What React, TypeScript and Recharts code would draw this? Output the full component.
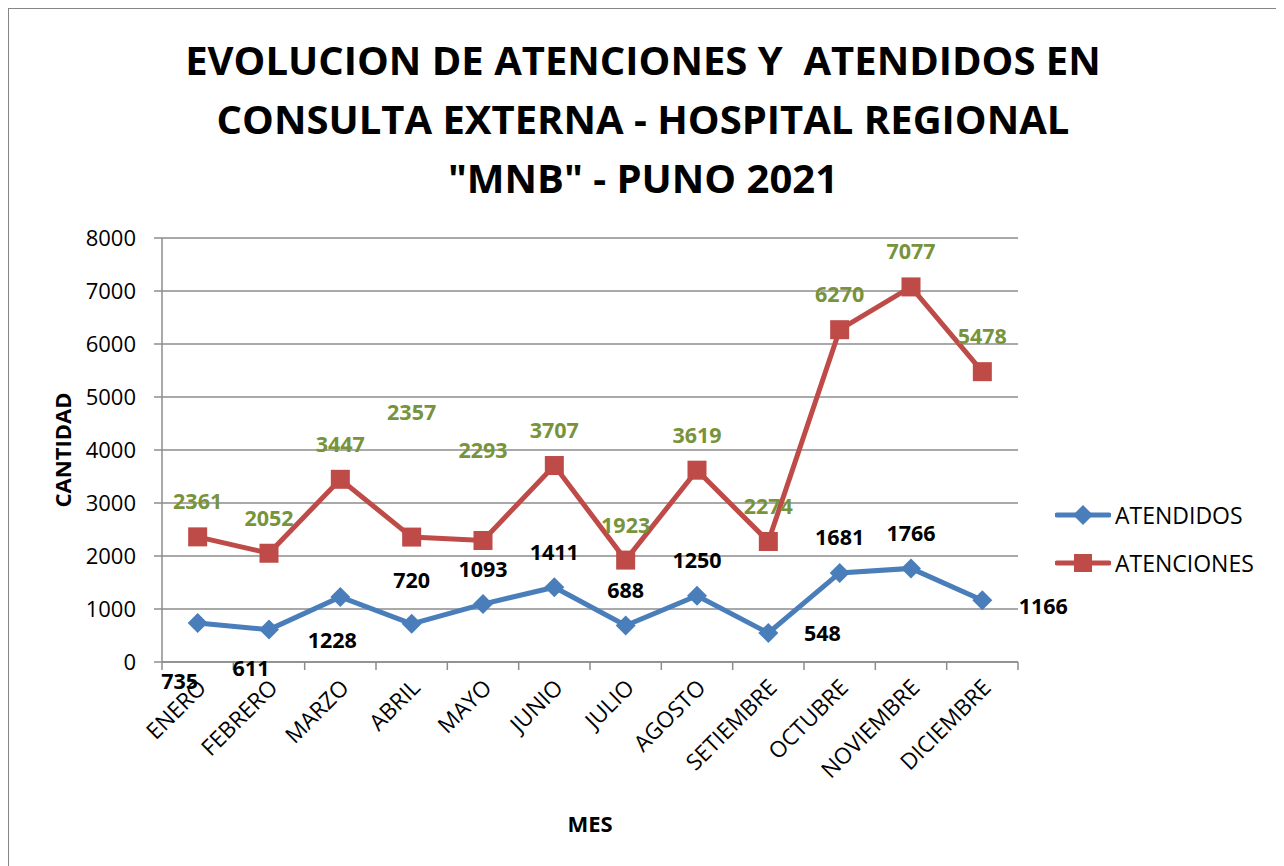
import { CartesianGrid, LabelList, Line, LineChart, XAxis, YAxis } from "recharts";

const months = [
  "ENERO", "FEBRERO", "MARZO", "ABRIL", "MAYO", "JUNIO",
  "JULIO", "AGOSTO", "SETIEMBRE", "OCTUBRE", "NOVIEMBRE", "DICIEMBRE",
];
const atendidos = [735, 611, 1228, 720, 1093, 1411, 688, 1250, 548, 1681, 1766, 1166];
const atenciones = [2361, 2052, 3447, 2357, 2293, 3707, 1923, 3619, 2274, 6270, 7077, 5478];
const yTicks = [0, 1000, 2000, 3000, 4000, 5000, 6000, 7000, 8000];

const data = months.map((mes, i) => ({
  mes,
  atendidos: atendidos[i],
  atenciones: atenciones[i],
}));

const BLUE = "#4A7EBB";
const RED = "#BE4B48";
const GREEN = "#77933C";
const GRID = "#8c8c8c";
const FONT = "'Open Sans', 'Noto Sans', sans-serif";

const PLOT_W = 856;
const BAND = PLOT_W / 12;

// where excel dropped the data labels (dx, dy from the point), default is above
const atendidosNudge: Record<number, [number, number]> = {
  0: [-18, 57], 1: [-18, 38], 2: [-8, 43], 3: [0, -44], 8: [54, 0], 11: [61, 5],
};
const atencionesNudge: Record<number, [number, number]> = {
  3: [0, -126], 4: [0, -91],
};

const makeLabel = (color: string, nudge: Record<number, [number, number]>) => (props: any) => {
  const { x, y, index, value } = props;
  const [dx, dy] = nudge[index] ?? [0, -36];
  return (
    <text
      x={x + dx}
      y={y + dy}
      textAnchor="middle"
      dominantBaseline="central"
      fill={color}
      fontSize={21.5}
      fontWeight="bold"
      fontFamily={FONT}
    >
      {value}
    </text>
  );
};

const Diamond = (props: any) => {
  const { cx, cy, index } = props;
  if (cx == null || cy == null) return null;
  const r = 10;
  return (
    <polygon
      key={`d${index}`}
      points={`${cx},${cy - r} ${cx + r},${cy} ${cx},${cy + r} ${cx - r},${cy}`}
      fill={BLUE}
    />
  );
};

const Square = (props: any) => {
  const { cx, cy, index } = props;
  if (cx == null || cy == null) return null;
  const s = 19;
  return <rect key={`s${index}`} x={cx - s / 2} y={cy - s / 2} width={s} height={s} fill={RED} />;
};

const MonthTick = (props: any) => {
  const { x, y, payload, index } = props;
  return (
    <g>
      <line x1={x - BAND / 2} y1={y} x2={x - BAND / 2} y2={y + 8} stroke={GRID} strokeWidth={1.5} />
      {index === months.length - 1 && (
        <line x1={x + BAND / 2} y1={y} x2={x + BAND / 2} y2={y + 8} stroke={GRID} strokeWidth={1.5} />
      )}
      <text
        transform={`translate(${x + 4},${y + 21}) rotate(-45)`}
        textAnchor="end"
        dominantBaseline="central"
        fontSize={22.5}
        fontFamily={FONT}
        fill="#000"
      >
        {payload.value}
      </text>
    </g>
  );
};

const LegendItem = ({ color, label, top, diamond }: { color: string; label: string; top: number; diamond: boolean }) => (
  <div style={{ position: "absolute", left: 1046, top: top - 14, height: 28, display: "flex", alignItems: "center" }}>
    <svg width={56} height={28}>
      <line x1={2} y1={14} x2={54} y2={14} stroke={color} strokeWidth={5} strokeLinecap="round" />
      {diamond ? (
        <polygon points="28,4 38,14 28,24 18,14" fill={color} />
      ) : (
        <rect x={19} y={5} width={18} height={18} fill={color} />
      )}
    </svg>
    <span style={{ fontFamily: FONT, fontSize: 23, color: "#000", marginLeft: 4 }}>{label}</span>
  </div>
);

export default function App() {
  return (
    <div
      style={{
        position: "relative",
        width: 1268,
        height: 868,
        border: "1px solid #868686",
        background: "#fff",
        fontFamily: FONT,
      }}
    >
      <div
        style={{
          position: "absolute",
          top: 21,
          left: 0,
          width: 1268,
          textAlign: "center",
          fontSize: 40,
          fontWeight: "bold",
          lineHeight: "59px",
          whiteSpace: "pre",
          color: "#000",
        }}
      >
        {"EVOLUCION DE ATENCIONES Y  ATENDIDOS EN\nCONSULTA EXTERNA - HOSPITAL REGIONAL\n\"MNB\" - PUNO 2021"}
      </div>

      <LineChart
        width={1268}
        height={856}
        data={data}
        margin={{ top: 229, right: 259, bottom: 83, left: 73 }}
        style={{ position: "absolute", left: 0, top: 0 }}
      >
        <CartesianGrid vertical={false} stroke={GRID} strokeWidth={1.5} />
        <XAxis
          dataKey="mes"
          interval={0}
          height={120}
          padding={{ left: BAND / 2, right: BAND / 2 }}
          tickLine={false}
          tickSize={0}
          tickMargin={0}
          axisLine={{ stroke: GRID, strokeWidth: 1.5 }}
          tick={<MonthTick />}
        />
        <YAxis
          width={80}
          domain={[0, 8000]}
          ticks={yTicks}
          interval={0}
          tickSize={8}
          tickMargin={18}
          axisLine={{ stroke: GRID, strokeWidth: 1.5 }}
          tickLine={{ stroke: GRID, strokeWidth: 1.5 }}
          tick={{ fill: "#000", fontSize: 22, fontFamily: FONT }}
        />
        <Line
          type="linear"
          dataKey="atendidos"
          name="ATENDIDOS"
          stroke={BLUE}
          strokeWidth={5}
          dot={<Diamond />}
          activeDot={false}
          isAnimationActive={false}
        >
          <LabelList dataKey="atendidos" content={makeLabel("#000", atendidosNudge)} />
        </Line>
        <Line
          type="linear"
          dataKey="atenciones"
          name="ATENCIONES"
          stroke={RED}
          strokeWidth={5}
          dot={<Square />}
          activeDot={false}
          isAnimationActive={false}
        >
          <LabelList dataKey="atenciones" content={makeLabel(GREEN, atencionesNudge)} />
        </Line>
      </LineChart>

      <div
        style={{
          position: "absolute",
          left: 53,
          top: 441,
          transform: "translate(-50%, -50%) rotate(-90deg)",
          fontSize: 22,
          fontWeight: "bold",
          whiteSpace: "nowrap",
        }}
      >
        CANTIDAD
      </div>
      <div
        style={{
          position: "absolute",
          left: 581,
          top: 814,
          transform: "translate(-50%, -50%)",
          fontSize: 22,
          fontWeight: "bold",
        }}
      >
        MES
      </div>

      <LegendItem color={BLUE} label="ATENDIDOS" top={506} diamond />
      <LegendItem color={RED} label="ATENCIONES" top={554} diamond={false} />
    </div>
  );
}
